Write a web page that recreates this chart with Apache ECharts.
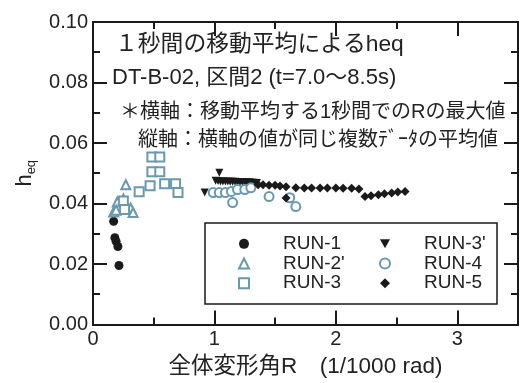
<!DOCTYPE html>
<html>
<head>
<meta charset="utf-8">
<script src="https://cdn.jsdelivr.net/npm/echarts@6/dist/echarts.min.js"></script>
<style>
  html, body { margin: 0; padding: 0; background: #fff; }
  #chart { width: 525px; height: 383px; }
</style>
</head>
<body>
<div id="chart"></div>
<script>
// 系列データ [R, heq]
var run1 = [[0.17, 0.0341], [0.18, 0.0287], [0.19, 0.0275], [0.205, 0.0258], [0.214, 0.0195]];
var run2p = [[0.17, 0.0372], [0.20, 0.0405], [0.19, 0.0378], [0.25, 0.0415], [0.27, 0.0462], [0.31, 0.0385], [0.33, 0.0370]];
var run3 = [[0.25, 0.0408], [0.26, 0.0380], [0.38, 0.0439], [0.47, 0.0459], [0.485, 0.0554], [0.55, 0.0554],
  [0.485, 0.0505], [0.55, 0.0505], [0.59, 0.0465], [0.68, 0.0465], [0.70, 0.0436]];
var run3p = [[0.92, 0.0436], [1.04, 0.0502], [1.01, 0.0475], [1.03, 0.0474], [1.05, 0.0473], [1.07, 0.0473],
  [1.09, 0.0473], [1.11, 0.0473], [1.13, 0.0472], [1.15, 0.0472], [1.17, 0.0472], [1.19, 0.0471],
  [1.21, 0.0471], [1.23, 0.0471], [1.25, 0.0470], [1.27, 0.0470], [1.29, 0.0470], [1.31, 0.0469],
  [1.33, 0.0469], [1.35, 0.0468]];
var run4 = [[0.99, 0.0436], [1.04, 0.0436], [1.09, 0.0436], [1.14, 0.0440], [1.19, 0.0446], [1.25, 0.0446],
  [1.30, 0.0452], [1.15, 0.0403], [1.45, 0.0423], [1.62, 0.0419], [1.67, 0.0390]];
var run5 = [[1.36, 0.0462], [1.40, 0.0462], [1.45, 0.0460], [1.50, 0.0460], [1.54, 0.0458], [1.59, 0.0455],
  [1.59, 0.0418], [1.67, 0.0452], [1.74, 0.0451], [1.80, 0.0451], [1.87, 0.0451], [1.93, 0.0451],
  [2.00, 0.0451], [2.06, 0.0450], [2.13, 0.0450], [2.19, 0.0448], [2.24, 0.0423], [2.29, 0.0426],
  [2.35, 0.0429], [2.40, 0.0432], [2.46, 0.0435], [2.51, 0.0438], [2.57, 0.0440]];

var legendLeft = ['RUN-1', "RUN-2'", 'RUN-3'];
var legendRight = ["RUN-3'", 'RUN-4', 'RUN-5'];

var xTicksMinor = 0.5;
var xTicksMajor = 1;
var yTicks = 0.02;

var FONT = '"Liberation Sans", "Noto Sans CJK JP", sans-serif';
var INK = '#1a1a1a';
var OPEN = '#6a98ad';

// 軸の共通設定
function xAxisOf(pos, interval, len, withLabel) {
    return {
        type: 'value', position: pos, min: 0, max: 3.5, interval: interval,
        axisLine: { show: true, onZero: false, lineStyle: { color: INK, width: 2 } },
        axisTick: { show: true, inside: true, length: len, lineStyle: { color: INK, width: 2 } },
        axisLabel: {
            show: withLabel, margin: 5, fontSize: 20, color: '#222', fontFamily: FONT,
            formatter: function (v) { return v % 1 === 0 ? String(v) : ''; }
        },
        splitLine: { show: false }
    };
}
function yAxisOf(pos, withLabel) {
    return {
        type: 'value', position: pos, min: 0, max: 0.1, interval: yTicks,
        axisLine: { show: true, onZero: false, lineStyle: { color: INK, width: 2 } },
        axisTick: { show: true, inside: true, length: 14, lineStyle: { color: INK, width: 2 } },
        minorTick: { show: true, splitNumber: 2, length: 7, lineStyle: { color: INK, width: 2 } },
        axisLabel: {
            show: withLabel, margin: 5, fontSize: 20, color: '#222', fontFamily: FONT,
            formatter: function (v) { return v.toFixed(2); }
        },
        splitLine: { show: false }
    };
}

var xMain = xAxisOf('bottom', xTicksMinor, 7, true);
xMain.name = '全体変形角R　(1/1000 rad)';
xMain.nameLocation = 'middle';
xMain.nameGap = 31;
xMain.nameTextStyle = { fontSize: 22.5, color: '#222', fontFamily: FONT };

var yMain = yAxisOf('left', true);
yMain.name = '{h|h}{s|eq}';
yMain.nameLocation = 'middle';
yMain.nameRotate = 90;
yMain.nameGap = 55;
yMain.nameTextStyle = {
    color: '#222', fontFamily: FONT,
    rich: {
        h: { fontSize: 22, lineHeight: 26, fontFamily: FONT, color: '#222' },
        s: { fontSize: 13, lineHeight: 12, verticalAlign: 'bottom', fontFamily: FONT, color: '#222' }
    }
};

function scatter(name, data, symbol, size, color) {
    return {
        type: 'scatter', name: name, data: data, symbol: symbol, symbolSize: size,
        xAxisIndex: 0, yAxisIndex: 0,
        itemStyle: { color: color, borderWidth: symbol.indexOf('empty') === 0 ? 1.5 : 0, opacity: 1 }
    };
}

// 凡例: アイコンは10x10、文字はpaddingで右へ
function legendOf(names, left) {
    return {
        data: names, orient: 'vertical', left: left, top: 234, padding: 0,
        itemWidth: 10, itemHeight: 10, itemGap: 0,
        textStyle: { fontSize: 19, lineHeight: 19.7, color: '#222', fontFamily: FONT, padding: [0, 0, 0, 29] }
    };
}

// 注記テキスト
function note(text, x, y, size) {
    return {
        type: 'text', x: x, y: y, z: 10,
        style: { text: text, fontSize: size, fontFamily: FONT, fill: '#222', verticalAlign: 'middle' }
    };
}

var option = {
    backgroundColor: '#fff',
    animation: false,
    grid: { left: 93, right: 7, top: 22, bottom: 58, containLabel: false },
    xAxis: [
        xMain,
        xAxisOf('bottom', xTicksMajor, 14, false),
        xAxisOf('top', xTicksMinor, 7, false),
        xAxisOf('top', xTicksMajor, 14, false)
    ],
    yAxis: [yMain, yAxisOf('right', false)],
    legend: [legendOf(legendLeft, 238), legendOf(legendRight, 379)],
    graphic: [
        note('１秒間の移動平均によるheq', 115, 45, 22.8),
        note('DT-B-02, 区間2 (t=7.0～8.5s)', 112, 78, 22),
        note('＊横軸：移動平均する1秒間でのRの最大値', 120, 112, 20),
        note('縦軸：横軸の値が同じ複数ﾃﾞｰﾀの平均値', 138, 140, 20),
        {
            type: 'rect', z: 1,
            shape: { x: 205, y: 223, width: 292, height: 81 },
            style: { fill: 'rgba(0,0,0,0)', stroke: INK, lineWidth: 1.5 }
        }
    ],
    series: [
        scatter('RUN-1', run1, 'circle', 9, INK),
        scatter("RUN-2'", run2p, 'emptyTriangle', 9, OPEN),
        scatter('RUN-3', run3, 'emptyRect', 9, OPEN),
        scatter("RUN-3'", run3p, 'path://M0,0L10,0L5,9Z', 8, INK),
        scatter('RUN-4', run4, 'emptyCircle', 9, OPEN),
        scatter('RUN-5', run5, 'diamond', 9, INK)
    ]
};

var chart = echarts.init(document.getElementById('chart'));
chart.setOption(option);
</script>
</body>
</html>
